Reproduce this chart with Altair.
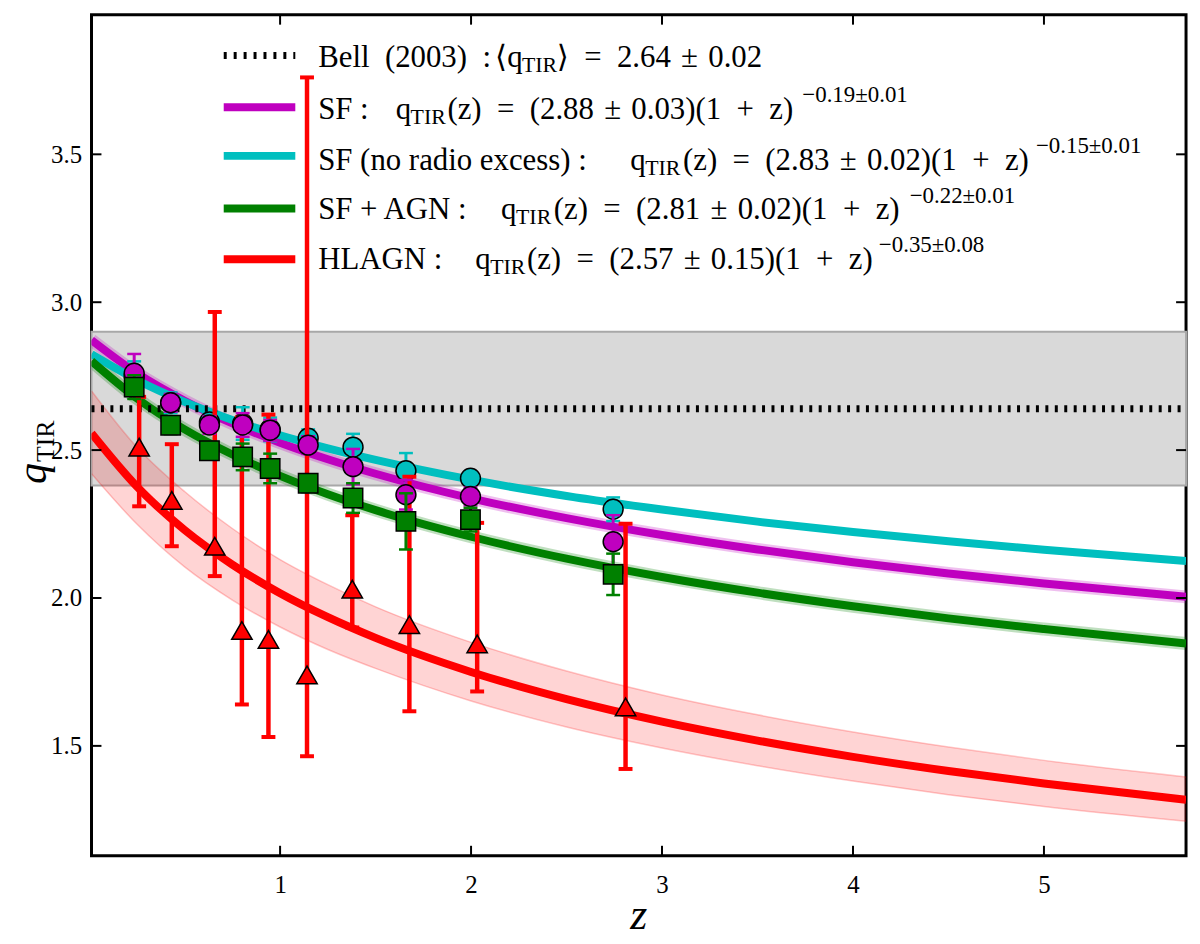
import altair as alt
import pandas as pd

# ---- values ----
# fitted relations q_TIR(z), sampled along z
z_grid = [0.0125, 0.25, 0.5, 0.75, 1.0, 1.25, 1.5, 2.0, 2.5, 3.0, 3.5, 4.0, 4.5, 5.0, 5.744]
fit_sf = [2.872, 2.760, 2.667, 2.590, 2.525, 2.469, 2.420, 2.337, 2.270, 2.213, 2.164, 2.121, 2.083, 2.049, 2.004]
fit_sfnr = [2.824, 2.737, 2.663, 2.602, 2.550, 2.506, 2.467, 2.400, 2.345, 2.299, 2.258, 2.223, 2.192, 2.163, 2.125]
fit_agn = [2.801, 2.675, 2.570, 2.485, 2.413, 2.351, 2.297, 2.207, 2.133, 2.071, 2.018, 1.972, 1.931, 1.895, 1.846]
fit_hl = [2.557, 2.377, 2.230, 2.113, 2.016, 1.935, 1.865, 1.750, 1.658, 1.582, 1.518, 1.463, 1.415, 1.373, 1.318]
fit_hl_hi = [2.700, 2.510, 2.360, 2.235, 2.130, 2.045, 1.970, 1.850, 1.753, 1.672, 1.605, 1.547, 1.496, 1.451, 1.395]
fit_hl_lo = [2.420, 2.250, 2.105, 1.993, 1.902, 1.826, 1.762, 1.652, 1.564, 1.493, 1.433, 1.381, 1.335, 1.295, 1.245]

# binned medians
z_bins = [0.236, 0.427, 0.630, 0.804, 0.948, 1.147, 1.382, 1.659, 1.997, 2.744]
q_sf = [2.76, 2.66, 2.585, 2.585, 2.567, 2.517, 2.444, 2.349, 2.343, 2.19]
err_sf = [0.065, 0.03, 0.03, 0.04, 0.035, 0.03, 0.06, 0.05, 0.03, 0.09]
q_sfnr = [2.75, 2.66, 2.595, 2.59, 2.57, 2.54, 2.51, 2.43, 2.405, 2.30]
err_sfnr = [0.05, 0.035, 0.03, 0.055, 0.04, 0.03, 0.045, 0.06, 0.02, 0.04]
q_agn = [2.713, 2.584, 2.498, 2.477, 2.438, 2.388, 2.338, 2.259, 2.265, 2.08]
err_agn = [0.04, 0.03, 0.03, 0.045, 0.05, 0.03, 0.05, 0.095, 0.04, 0.07]
z_hl = [0.262, 0.433, 0.658, 0.80, 0.939, 1.141, 1.378, 1.677, 2.032, 2.809]
q_hl = [2.51, 2.33, 2.175, 1.89, 1.86, 1.74, 2.03, 1.91, 1.845, 1.632]
lo_hl = [2.31, 2.175, 2.074, 1.64, 1.53, 1.465, 1.90, 1.617, 1.684, 1.422]
hi_hl = [2.68, 2.52, 2.967, 2.61, 2.62, 3.76, 2.28, 2.41, 2.254, 2.251]

bell_q = [2.64]
bell_band = [2.38, 2.90]

x_ticks = [1, 2, 3, 4, 5]
y_ticks = [1.5, 2.0, 2.5, 3.0, 3.5]

bell_text = ['Bell (2003) :', '2.64 ± 0.02']
legend_names = ['SF :', 'SF (no radio excess) :', 'SF + AGN :', 'HLAGN :']
fit_norm = ['2.88 ± 0.03', '2.83 ± 0.02', '2.81 ± 0.02', '2.57 ± 0.15']
fit_slope = ['−0.19±0.01', '−0.15±0.01', '−0.22±0.01', '−0.35±0.08']

# ---- layout ----
W, H = 1101, 846
X0, Y0 = 92, 12
SERIF = "'Liberation Serif', 'DejaVu Serif', serif"
MAGENTA, CYAN, GREEN, RED = '#bf00bf', '#00bfbf', '#008000', '#ff0000'

xs = alt.Scale(domain=[0.0125, 5.744], nice=False, zero=False)
ys = alt.Scale(domain=[1.1286, 3.972], nice=False, zero=False)
xax = alt.Axis(values=x_ticks, format='d', title=None, labelPadding=17)
yax = alt.Axis(values=y_ticks, format='.1f', title=None, labelPadding=10)


def X(f):
    return alt.X(f, type='quantitative', scale=xs, axis=xax)


def Y(f):
    return alt.Y(f, type='quantitative', scale=ys, axis=yax)


curves = pd.DataFrame({'z': z_grid, 'sf': fit_sf, 'sfnr': fit_sfnr, 'agn': fit_agn,
                       'hl': fit_hl, 'hl_hi': fit_hl_hi, 'hl_lo': fit_hl_lo})


def points(z, q, lo, hi):
    return pd.DataFrame({'z': z, 'q': q, 'lo': lo, 'hi': hi})


def sym(q, e):
    return [a - b for a, b in zip(q, e)], [a + b for a, b in zip(q, e)]


sf = points(z_bins, q_sf, *sym(q_sf, err_sf))
sfnr = points(z_bins, q_sfnr, *sym(q_sfnr, err_sfnr))
agn = points(z_bins, q_agn, *sym(q_agn, err_agn))
hl = points(z_hl, q_hl, lo_hl, hi_hl)

layers = []

# Bell (2003) scatter band
band = pd.DataFrame({'lo': [bell_band[0]], 'hi': [bell_band[1]]})
layers.append(alt.Chart(band).mark_rect(fill='#d9d9d9', stroke='#a8a8a8', strokeWidth=2).encode(
    y=Y('lo'), y2='hi', x=alt.value(0), x2=alt.value(W)))

# red uncertainty band of the HLAGN fit
base = alt.Chart(curves)
layers.append(base.mark_area(color=RED, opacity=0.17, interpolate='monotone', clip=True).encode(
    x=X('z'), y=Y('hl_hi'), y2='hl_lo'))
for f in ('hl_hi', 'hl_lo'):
    layers.append(base.mark_line(color=RED, opacity=0.22, strokeWidth=1.5, interpolate='monotone',
                                 clip=True).encode(x=X('z'), y=Y(f)))

# thin shaded envelopes round the SF and SF+AGN fits
for f, c in (('sf', MAGENTA), ('agn', GREEN)):
    layers.append(base.mark_line(color=c, opacity=0.25, strokeWidth=13, interpolate='monotone',
                                 clip=True).encode(x=X('z'), y=Y(f)))

# fitted curves
for f, c in (('sf', MAGENTA), ('sfnr', CYAN), ('agn', GREEN), ('hl', RED)):
    layers.append(base.mark_line(color=c, strokeWidth=8, interpolate='monotone', clip=True).encode(
        x=X('z'), y=Y(f)))

# Bell mean
layers.append(alt.Chart(pd.DataFrame({'v': bell_q})).mark_rule(
    color='black', strokeWidth=7, strokeDash=[3, 6.5]).encode(y=Y('v'), x=alt.value(0), x2=alt.value(W)))


def errorbars(df, color, width, cap):
    c = alt.Chart(df)
    out = [c.mark_rule(color=color, strokeWidth=width).encode(x=X('z'), y=Y('lo'), y2='hi')]
    for f in ('lo', 'hi'):
        out.append(c.mark_tick(color=color, orient='horizontal', size=cap, thickness=width - 0.5,
                               opacity=1).encode(x=X('z'), y=Y(f)))
    return out


def markers(df, color, shape, size):
    return alt.Chart(df).mark_point(shape=shape, filled=True, fill=color, stroke='black',
                                    strokeWidth=1.5, size=size, opacity=1).encode(x=X('z'), y=Y('q'))


layers += errorbars(sfnr, CYAN, 3, 14)
layers.append(markers(sfnr, CYAN, 'circle', 400))
layers += errorbars(hl, RED, 4.5, 14)
layers.append(markers(hl, RED, 'triangle-up', 420))
layers += errorbars(sf, MAGENTA, 3, 14)
layers.append(markers(sf, MAGENTA, 'circle', 400))
layers += errorbars(agn, GREEN, 3, 14)
layers.append(markers(agn, GREEN, 'square', 380))

# inward ticks on all four sides
xt = alt.Chart(pd.DataFrame({'v': x_ticks}))
yt = alt.Chart(pd.DataFrame({'v': y_ticks}))
layers.append(xt.mark_rule(color='black', strokeWidth=2).encode(x=X('v'), y=alt.value(H - 10), y2=alt.value(H)))
layers.append(xt.mark_rule(color='black', strokeWidth=2).encode(x=X('v'), y=alt.value(0), y2=alt.value(10)))
layers.append(yt.mark_rule(color='black', strokeWidth=2).encode(y=Y('v'), x=alt.value(0), x2=alt.value(10)))
layers.append(yt.mark_rule(color='black', strokeWidth=2).encode(y=Y('v'), x=alt.value(W - 10), x2=alt.value(W)))

# ---- hand-made legend (math-like text needs sub/superscripts) ----
one = pd.DataFrame({'k': [0]})


def text(s, px, py, size, style='normal', angle=0):
    return alt.Chart(one).mark_text(text=s, font=SERIF, fontSize=size, fontStyle=style, align='left',
                                    baseline='alphabetic', angle=angle, color='black').encode(
        x=alt.value(px - X0), y=alt.value(py - Y0))


def handle(py, color, dash=None, width=8):
    kw = dict(color=color, strokeWidth=width)
    if dash:
        kw['strokeDash'] = dash
    return alt.Chart(one).mark_rule(**kw).encode(
        x=alt.value(225 - X0), x2=alt.value(297 - X0), y=alt.value(py - Y0))


EN, TH = '\u2002', '\u2004'
MAIN, SMALL = 31, 22

layers.append(handle(53, 'black', dash=[3, 7], width=7))
layers.append(text(bell_text[0].replace(' ', EN), 320, 65, MAIN))
layers.append(text('⟨q', 498, 65, MAIN))
layers.append(text('TIR', 525, 70, SMALL))
layers.append(text('⟩' + EN + '=' + EN + bell_text[1].replace(' ± ', TH + '±' + TH), 560, 65, MAIN))

row_base = [117, 168, 218, 268]
row_handle = [105, 154, 207, 258]
q_x = [398, 634, 504, 478]
rest_x = [450, 687, 557, 530]
sup_x = [807, 1042, 915, 884]
for i, c in enumerate((MAGENTA, CYAN, GREEN, RED)):
    b = row_base[i]
    layers.append(handle(row_handle[i], c))
    layers.append(text(legend_names[i], 320, b, MAIN))
    layers.append(text('q', q_x[i], b, MAIN))
    layers.append(text('TIR', q_x[i] + 15, b + 5, SMALL))
    rest = '(z)' + EN + '=' + EN + '(' + fit_norm[i].replace(' ± ', TH + '±' + TH) + ')(1' + EN + '+' + EN + 'z)'
    layers.append(text(rest, rest_x[i], b, MAIN))
    layers.append(text(fit_slope[i], sup_x[i], b - 17, 23))

# axis titles
layers.append(text('q', 46, 484, 42, style='italic', angle=270))
layers.append(text('TIR', 54, 462, 26, angle=270))
layers.append(text('z', 634, 932, 44, style='italic'))

chart = alt.layer(*layers).properties(
    width=W, height=H,
    autosize=alt.AutoSizeParams(type='none'),
    padding={'left': X0 - 8, 'top': Y0 - 8, 'right': 6, 'bottom': 80},
).configure_view(
    stroke='black', strokeWidth=3
).configure_axis(
    grid=False, ticks=False, domain=False, labelFont=SERIF, labelFontSize=25, labelColor='black'
)

chart.save("out.html", embed_options={"renderer": "svg", "actions": False})
